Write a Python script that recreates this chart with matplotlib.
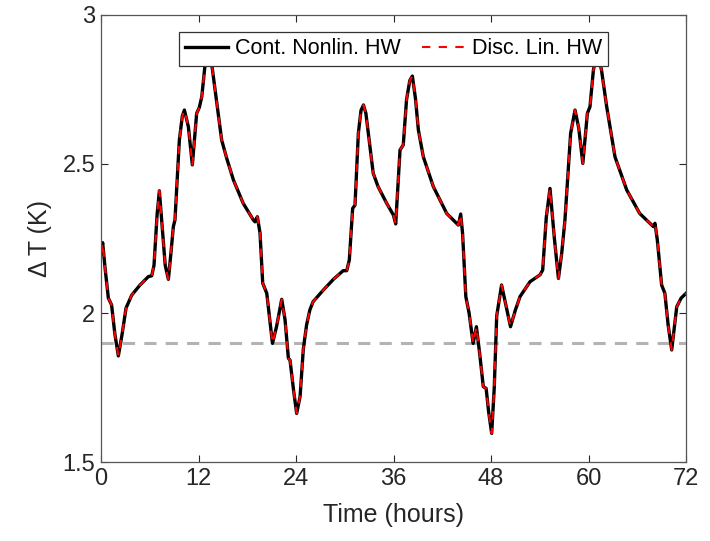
import numpy as np
import matplotlib.pyplot as plt

# time (hours) and temperature difference
time_h = [0, 0.2, 0.5, 0.9, 1.3, 1.7, 2.13, 2.6, 3.08, 3.78, 4.8, 5.82, 6.24, 6.52, 6.9,
          7.18, 7.5, 7.9, 8.29, 8.6, 8.9, 9.1, 9.64, 10.0, 10.26, 10.75, 11.24, 11.5, 11.77,
          12.1, 12.4, 12.8, 13.1, 13.4, 13.6, 14.2, 14.85, 15.47, 16.3, 17.5, 18.75, 18.95,
          19.24, 19.57, 19.9, 20.4, 20.8, 21.1, 21.6, 22.24, 22.65, 23.06, 23.26, 23.7, 24.08,
          24.5, 24.9, 25.3, 25.7, 26.1, 27.36, 28.6, 29.8, 30.24, 30.56, 30.97, 31.26, 31.67,
          32.0, 32.3, 32.6, 32.9, 33.5, 34.1, 35.16, 35.98, 36.27, 36.8, 37.2, 37.6, 38.0,
          38.32, 38.7, 39.06, 39.67, 40.9, 42.55, 43.98, 44.27, 44.5, 44.9, 45.3, 45.8, 46.2,
          46.6, 47.05, 47.4, 47.7, 48.08, 48.4, 48.7, 49.3, 49.8, 50.4, 51.0, 51.57, 52.8,
          54.03, 54.36, 54.8, 55.26, 55.8, 56.3, 56.7, 57.1, 57.8, 58.34, 58.8, 59.3, 59.86,
          60.18, 60.6, 61.1, 61.6, 62.24, 63.26, 64.7, 66.3, 67.98, 68.18, 68.47, 69.0, 69.4,
          69.8, 70.24, 70.86, 71.4, 72]
dT = [2.20, 2.236, 2.15, 2.05, 2.027, 1.93, 1.856, 1.93, 2.017, 2.06, 2.094, 2.122, 2.125,
      2.16, 2.33, 2.41, 2.30, 2.16, 2.113, 2.20, 2.29, 2.312, 2.58, 2.66, 2.681, 2.625, 2.497,
      2.58, 2.67, 2.69, 2.726, 2.832, 2.87, 2.88, 2.84, 2.715, 2.58, 2.519, 2.446, 2.368, 2.312,
      2.306, 2.323, 2.268, 2.10, 2.066, 1.97, 1.898, 1.954, 2.046, 1.977, 1.848, 1.842, 1.74,
      1.663, 1.72, 1.88, 1.96, 2.01, 2.038, 2.077, 2.113, 2.142, 2.142, 2.178, 2.351, 2.362,
      2.603, 2.68, 2.698, 2.67, 2.603, 2.469, 2.424, 2.368, 2.329, 2.299, 2.547, 2.564, 2.715,
      2.78, 2.795, 2.72, 2.614, 2.524, 2.424, 2.334, 2.295, 2.332, 2.267, 2.055, 2.0, 1.898,
      1.954, 1.865, 1.753, 1.747, 1.67, 1.596, 1.75, 1.99, 2.094, 2.03, 1.954, 2.01, 2.055,
      2.105, 2.128, 2.144, 2.32, 2.418, 2.25, 2.116, 2.20, 2.312, 2.603, 2.681, 2.62, 2.502,
      2.67, 2.692, 2.815, 2.88, 2.815, 2.692, 2.524, 2.413, 2.334, 2.29, 2.301, 2.245, 2.094,
      2.066, 1.96, 1.876, 2.021, 2.05, 2.066]
threshold = 1.9

x_ticks = [0, 12, 24, 36, 48, 60, 72]
y_ticks = [1.5, 2, 2.5, 3]

plt.rcParams['font.family'] = ['Liberation Sans', 'DejaVu Sans']
ink = '#262626'

fig = plt.figure(figsize=(7.1, 5.41), dpi=100)
ax = fig.add_axes([0.1423, 0.146, 0.8239, 0.8263])

ax.axhline(threshold, color='#b3b3b3', lw=2.2, ls=(0, (4, 3)), zorder=1)
ax.plot(time_h, dT, color='black', lw=2.4, label='Cont. Nonlin. HW', zorder=2)
ax.plot(time_h, dT, color='red', lw=1.5, ls=(0, (4, 4)), label='Disc. Lin. HW', zorder=3)

ax.set_xlim(0, 72)
ax.set_ylim(1.5, 3)
ax.set_xticks(x_ticks)
ax.set_yticks(y_ticks)
ax.set_yticklabels(['1.5', '2', '2.5', '3'])
ax.tick_params(direction='in', top=True, right=True, length=5, width=0.8,
               labelsize=17, colors=ink, pad=4)
for s in ax.spines.values():
    s.set_color('#555555')
    s.set_linewidth(0.9)

ax.set_xlabel('Time (hours)', fontsize=18, color=ink, labelpad=10)
ax.set_ylabel('\u0394 T (K)', fontsize=18, color=ink, labelpad=8)

leg = ax.legend(loc='upper center', bbox_to_anchor=(0.5, 1 - 17 / 447), ncol=2,
                fontsize=15.5, frameon=True, fancybox=False, handlelength=2.0,
                handletextpad=0.3, columnspacing=1.0, borderpad=0.3, borderaxespad=0)
leg.get_frame().set_edgecolor('#333333')
leg.get_frame().set_linewidth(0.9)
leg.get_frame().set_alpha(1)

fig.savefig('out.png', dpi=100)
